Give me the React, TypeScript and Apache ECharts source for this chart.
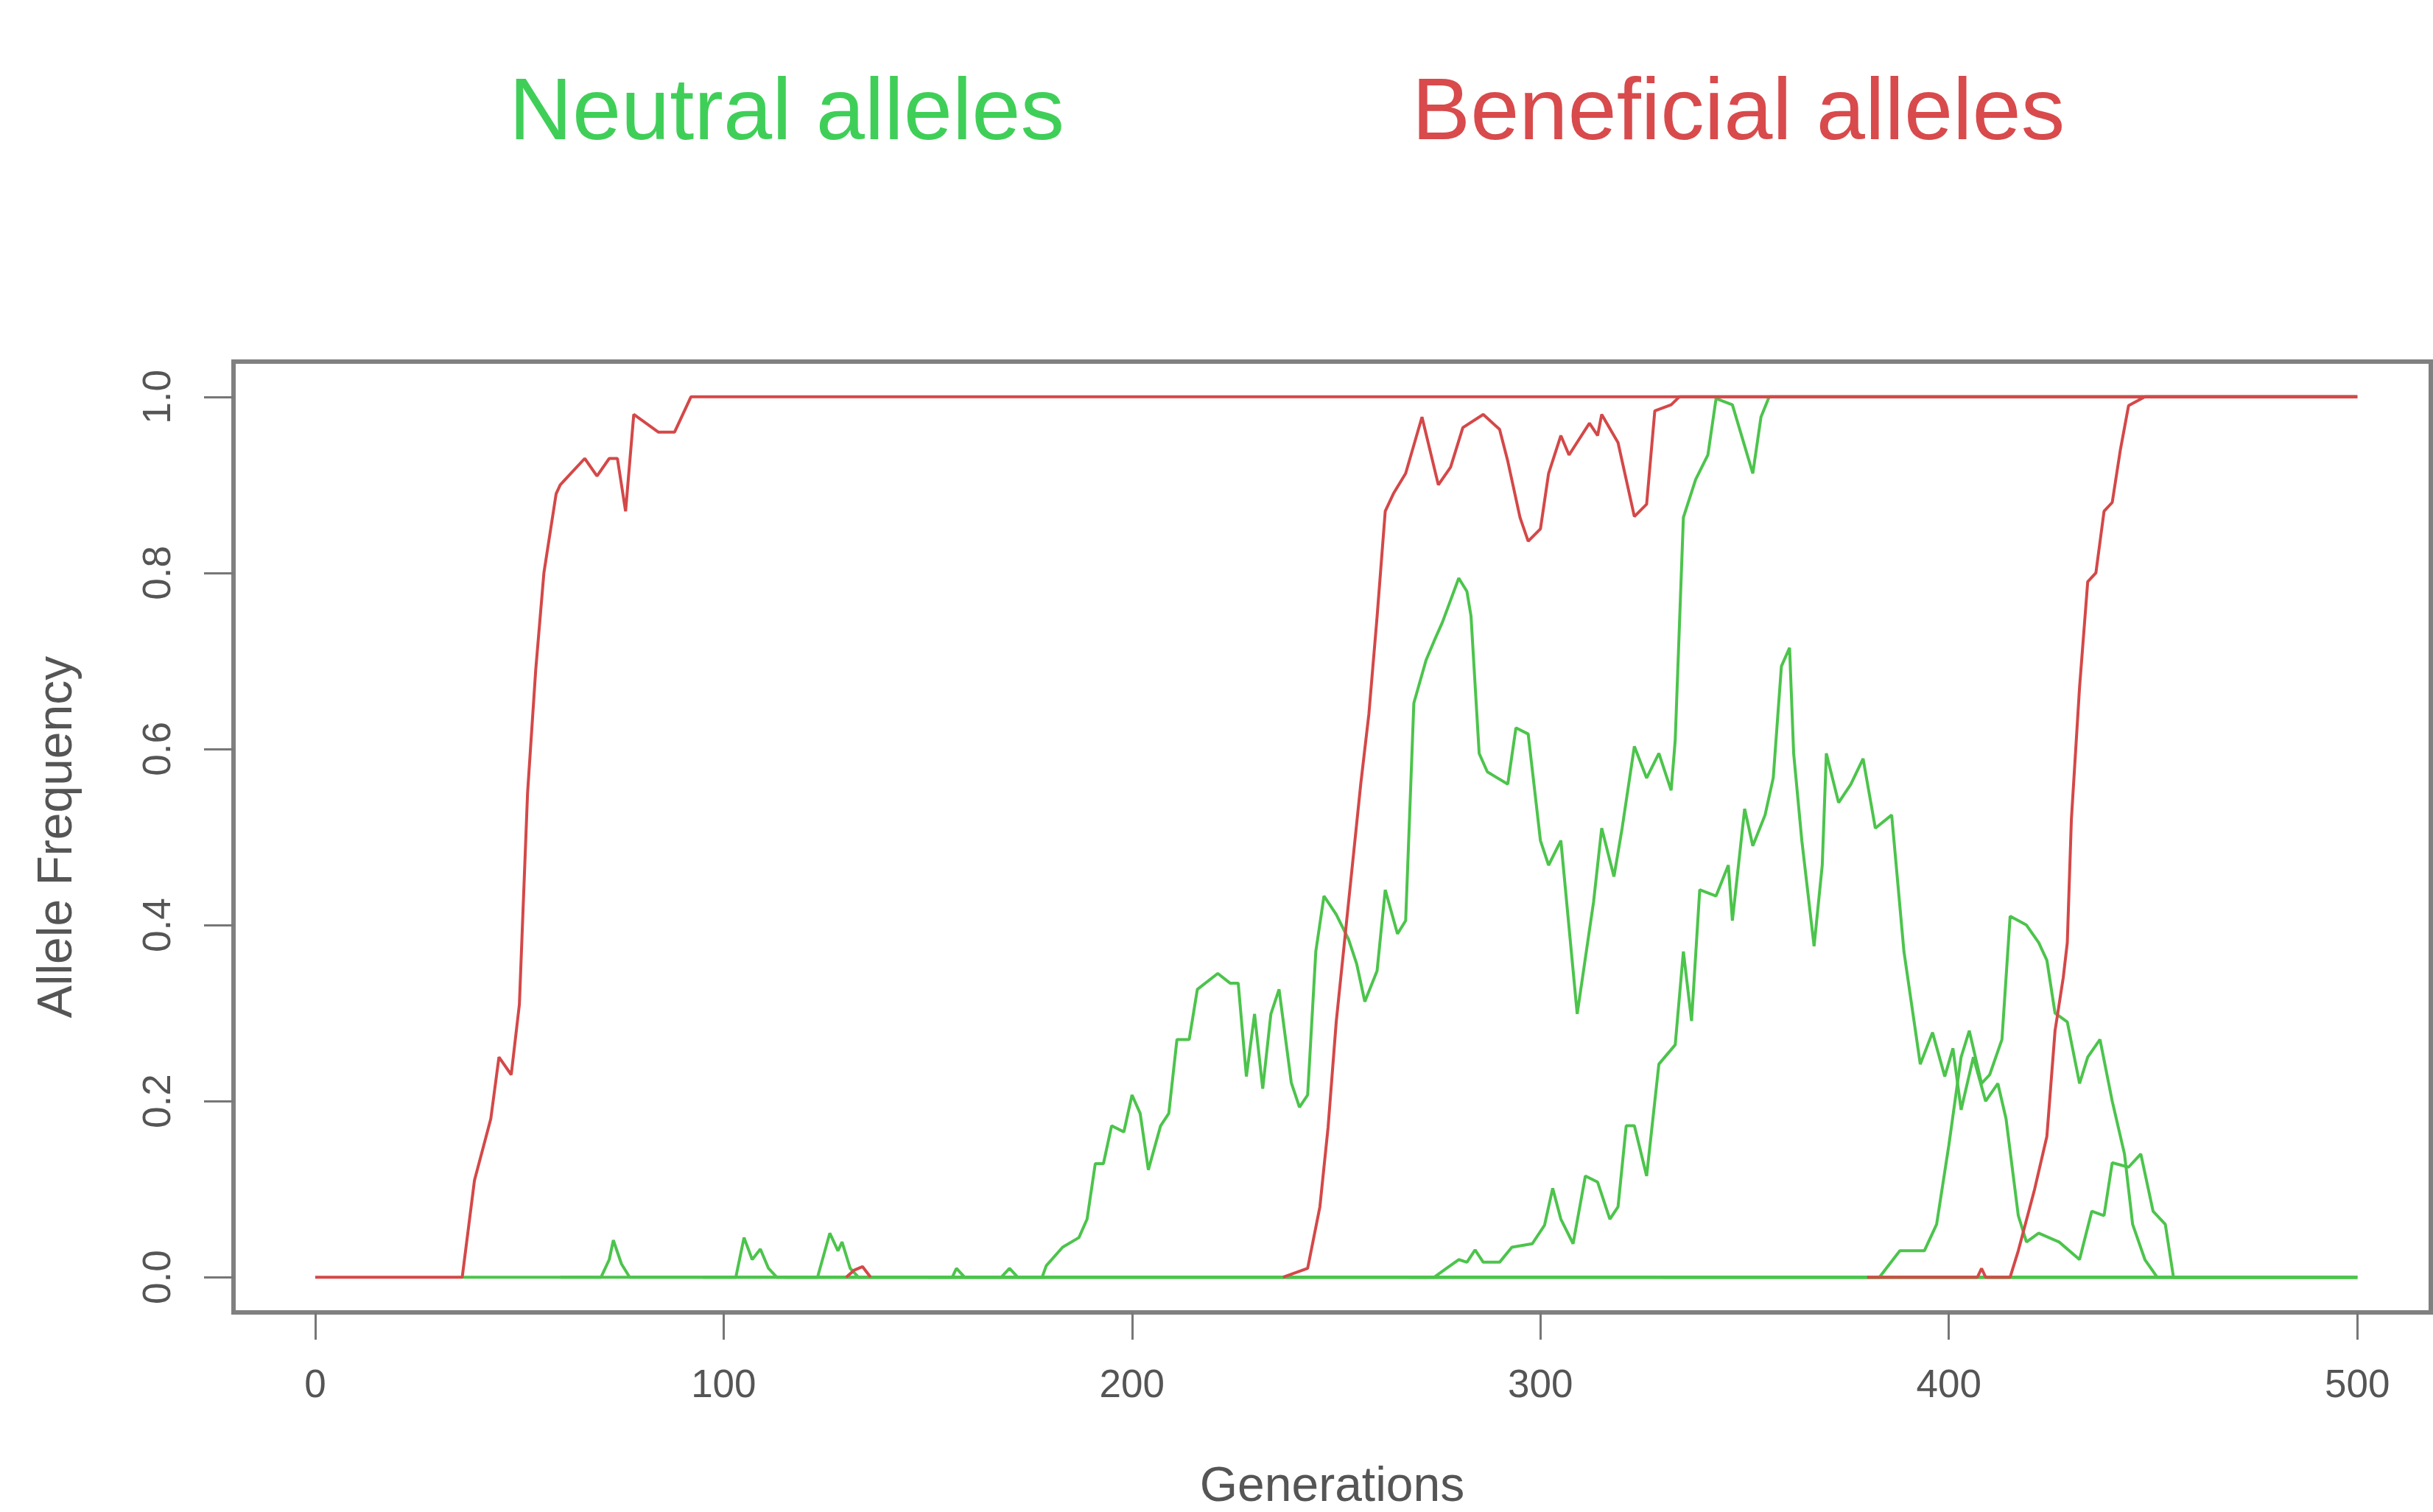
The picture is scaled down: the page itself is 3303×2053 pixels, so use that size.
import React, { useEffect, useRef } from "react";
import * as echarts from "echarts";

// ---- Data (generation, allele frequency) ----
const xTicks = [0, 100, 200, 300, 400, 500];
const yTicks = [0, 0.2, 0.4, 0.6, 0.8, 1.0];

const beneficial1: number[][] = [
  [0, 0], [36, 0], [39, 0.11], [43, 0.18], [45, 0.25], [48, 0.23], [50, 0.31], [52, 0.55],
  [54, 0.69], [56, 0.8], [59, 0.89], [60, 0.9], [62, 0.91], [66, 0.93], [69, 0.91], [72, 0.93],
  [74, 0.93], [76, 0.87], [78, 0.98], [81, 0.97], [84, 0.96], [88, 0.96], [92, 1.0], [500, 1.0],
];
const beneficial2: number[][] = [
  [237, 0], [243, 0.01], [246, 0.08], [248, 0.17], [250, 0.29], [252, 0.38], [254, 0.47],
  [256, 0.56], [258, 0.64], [260, 0.75], [262, 0.87], [264, 0.89], [267, 0.913], [271, 0.977],
  [275, 0.9], [278, 0.92], [281, 0.965], [286, 0.98], [290, 0.963], [292, 0.927], [295, 0.863],
  [297, 0.836], [300, 0.85], [302, 0.913], [305, 0.956], [307, 0.934], [312, 0.97], [314, 0.956],
  [315, 0.98], [319, 0.948], [321, 0.906], [323, 0.864], [326, 0.878], [328, 0.984], [332, 0.991],
  [334, 1.0], [500, 1.0],
];
const beneficial3: number[][] = [
  [380, 0], [407, 0], [408, 0.01], [409, 0], [415, 0], [417, 0.03], [421, 0.1], [424, 0.16],
  [426, 0.28], [428, 0.34], [429, 0.38], [430, 0.52], [432, 0.67], [434, 0.79], [436, 0.8],
  [438, 0.87], [440, 0.88], [442, 0.94], [444, 0.99], [448, 1.0], [500, 1.0],
];
const beneficialLost: number[][] = [
  [130, 0], [132, 0.008], [134, 0.012], [136, 0],
];

const neutralBlip1: number[][] = [[60, 0], [70, 0], [72, 0.02], [73, 0.042], [75, 0.015], [77, 0], [500, 0]];
const neutralBlip2: number[][] = [[95, 0], [103, 0], [105, 0.045], [107, 0.02], [109, 0.032], [111, 0.01], [113, 0], [500, 0]];
const neutralBlip3: number[][] = [[115, 0], [123, 0], [126, 0.05], [128, 0.03], [129, 0.04], [131, 0.01], [133, 0], [500, 0]];
const neutralBlip4: number[][] = [[150, 0], [156, 0], [157, 0.01], [159, 0], [168, 0], [170, 0.01], [172, 0], [500, 0]];

const neutralA: number[][] = [
  [36, 0], [178, 0], [179, 0.013], [183, 0.034], [187, 0.045], [189, 0.066], [191, 0.129], [193, 0.129],
  [195, 0.172], [198, 0.165], [200, 0.207], [202, 0.186], [204, 0.122], [207, 0.172], [209, 0.186],
  [211, 0.27], [214, 0.27], [216, 0.327], [221, 0.345], [224, 0.334], [226, 0.334], [228, 0.228],
  [230, 0.299], [232, 0.214], [234, 0.299], [236, 0.327], [239, 0.221], [241, 0.193], [243, 0.207],
  [245, 0.37], [247, 0.433], [250, 0.412], [253, 0.384], [255, 0.356], [257, 0.313], [260, 0.348],
  [262, 0.44], [265, 0.39], [267, 0.405], [269, 0.652], [272, 0.701], [274, 0.723], [276, 0.744],
  [280, 0.794], [282, 0.779], [283, 0.751], [285, 0.595], [287, 0.574], [292, 0.56], [294, 0.624],
  [297, 0.617], [300, 0.496], [302, 0.468], [305, 0.496], [309, 0.299], [313, 0.426], [315, 0.51],
  [318, 0.455], [320, 0.51], [323, 0.603], [326, 0.567], [329, 0.595], [332, 0.553], [333, 0.61],
  [335, 0.863], [338, 0.906], [341, 0.934], [343, 0.998], [347, 0.991], [352, 0.913], [354, 0.977],
  [356, 1.0], [500, 1.0],
];
const neutralC: number[][] = [
  [268, 0], [274, 0], [277, 0.01], [280, 0.02], [282, 0.017], [284, 0.031], [286, 0.017], [290, 0.017],
  [293, 0.034], [298, 0.038], [301, 0.059], [303, 0.101], [305, 0.066], [308, 0.038], [311, 0.115],
  [314, 0.108], [317, 0.066], [319, 0.08], [321, 0.172], [323, 0.172], [326, 0.115], [329, 0.242],
  [333, 0.264], [335, 0.37], [337, 0.291], [339, 0.44], [343, 0.433], [346, 0.468], [347, 0.405],
  [350, 0.532], [352, 0.49], [355, 0.525], [357, 0.567], [359, 0.694], [361, 0.715], [362, 0.595],
  [364, 0.496], [367, 0.376], [369, 0.468], [370, 0.595], [373, 0.539], [376, 0.56], [379, 0.589],
  [382, 0.51], [386, 0.525], [389, 0.37], [393, 0.242], [396, 0.278], [399, 0.228], [401, 0.26],
  [403, 0.19], [406, 0.25], [409, 0.2], [412, 0.22], [414, 0.18], [417, 0.07], [419, 0.04],
  [422, 0.05], [427, 0.04], [432, 0.02], [435, 0.075], [438, 0.07], [440, 0.13], [444, 0.125],
  [447, 0.14], [450, 0.075], [453, 0.06], [455, 0], [500, 0],
];
const neutralD: number[][] = [
  [330, 0], [383, 0], [388, 0.03], [392, 0.03], [394, 0.03], [397, 0.06], [400, 0.15], [403, 0.25],
  [405, 0.28], [408, 0.22], [410, 0.23], [413, 0.27], [415, 0.41], [419, 0.4], [422, 0.38],
  [424, 0.36], [426, 0.3], [429, 0.29], [432, 0.22], [434, 0.25], [437, 0.27], [440, 0.2],
  [443, 0.14], [445, 0.06], [448, 0.02], [451, 0], [500, 0],
];

const neutralSeries = [neutralBlip1, neutralBlip2, neutralBlip3, neutralBlip4, neutralA, neutralC, neutralD];
const beneficialSeries = [beneficial2, beneficial3, beneficialLost, beneficial1];

const GREEN = "#4cc44c";
const RED = "#d44848";
const FONT = "'Liberation Sans', Arial, sans-serif";

export default function App() {
  const ref = useRef<HTMLDivElement>(null);
  useEffect(() => {
    if (!ref.current) return;
    const chart = echarts.init(ref.current, null, { renderer: "svg" });
    const mk = (data: number[][], color: string, name: string) => ({
      type: "line",
      name,
      data,
      showSymbol: false,
      symbol: "none",
      clip: true,
      lineStyle: { color, width: 4 },
      itemStyle: { color },
      emphasis: { disabled: true },
    });
    chart.setOption({
      animation: false,
      backgroundColor: "#ffffff",
      grid: {
        left: 317,
        top: 491,
        width: 2983,
        height: 1295,
        show: true,
        borderColor: "#808080",
        borderWidth: 6,
        backgroundColor: "transparent",
      },
      graphic: [
        {
          type: "text",
          x: 1068,
          y: 147,
          style: {
            text: "Neutral alleles",
            fill: "#3fcf58",
            font: `119px ${FONT}`,
            align: "center",
            verticalAlign: "middle",
          },
        },
        {
          type: "text",
          x: 2360,
          y: 147,
          style: {
            text: "Beneficial alleles",
            fill: "#d84a4c",
            font: `119px ${FONT}`,
            align: "center",
            verticalAlign: "middle",
          },
        },
      ],
      xAxis: {
        type: "value",
        min: -20,
        max: 518,
        name: "Generations",
        nameLocation: "middle",
        nameGap: 200,
        nameTextStyle: { fontSize: 66, color: "#555", fontFamily: FONT },
        axisLine: { show: false, onZero: false },
        splitLine: { show: false },
        axisTick: {
          show: true,
          customValues: xTicks,
          length: 37,
          lineStyle: { color: "#777", width: 3 },
        },
        axisLabel: {
          customValues: xTicks,
          margin: 70,
          fontSize: 53,
          color: "#555",
          fontFamily: FONT,
        },
      },
      yAxis: {
        type: "value",
        min: -0.04,
        max: 1.04,
        name: "Allele Frequency",
        nameLocation: "middle",
        nameGap: 210,
        nameRotate: 90,
        nameTextStyle: { fontSize: 66, color: "#555", fontFamily: FONT },
        axisLine: { show: false, onZero: false },
        splitLine: { show: false },
        axisTick: {
          show: true,
          customValues: yTicks,
          length: 40,
          lineStyle: { color: "#777", width: 3 },
        },
        axisLabel: {
          customValues: yTicks,
          rotate: 90,
          margin: 78,
          fontSize: 53,
          color: "#555",
          fontFamily: FONT,
          formatter: (v: number) => v.toFixed(1),
        },
      },
      series: [
        ...neutralSeries.map((d, i) => mk(d, GREEN, `Neutral ${i + 1}`)),
        ...beneficialSeries.map((d, i) => mk(d, RED, `Beneficial ${i + 1}`)),
      ],
    });
    return () => chart.dispose();
  }, []);
  return (
    <div
      ref={ref}
      style={{ position: "fixed", left: 0, top: 0, width: "3303px", height: "2053px", background: "#fff" }}
    />
  );
}
